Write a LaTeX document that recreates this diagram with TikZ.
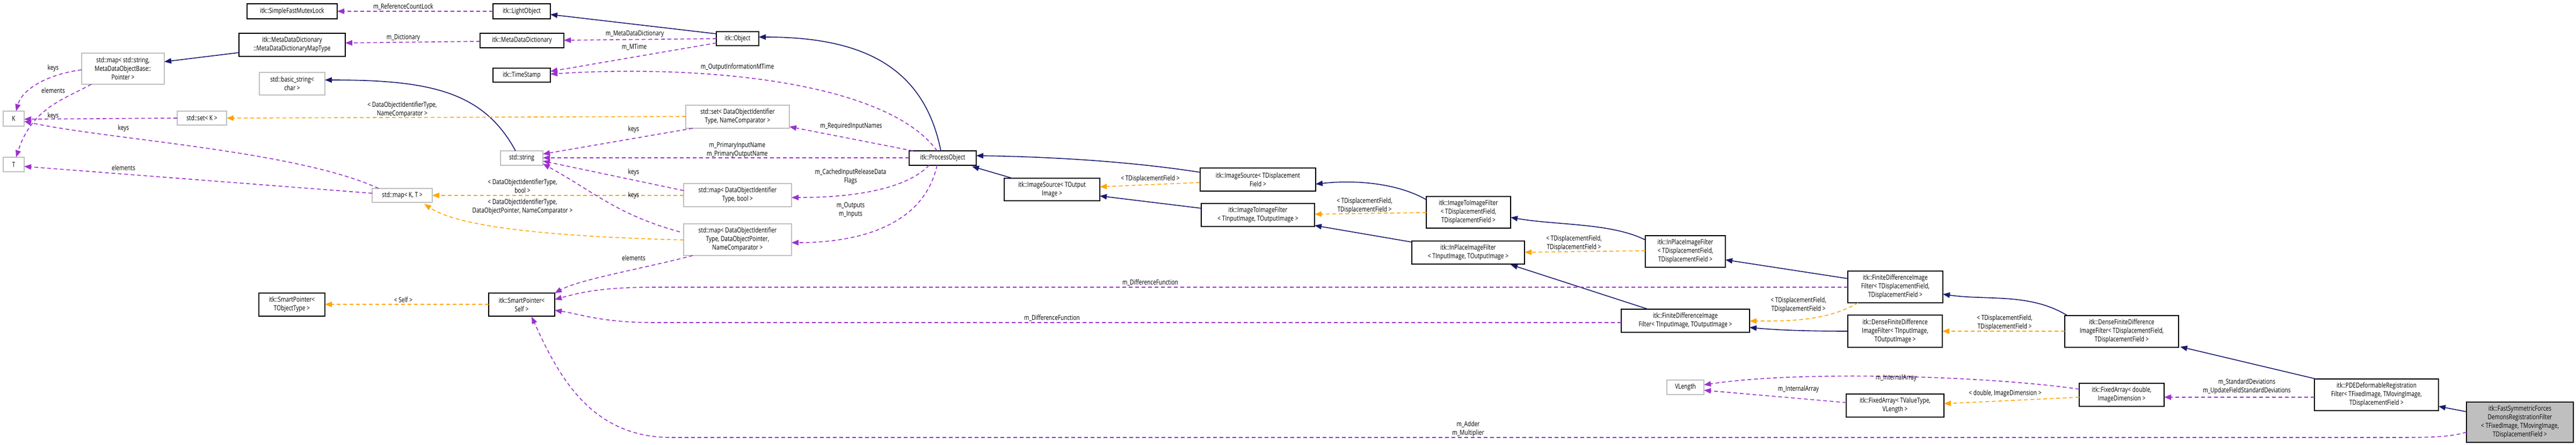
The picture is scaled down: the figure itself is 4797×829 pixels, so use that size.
\documentclass[tikz,border=0pt]{standalone}
\usepackage{fontspec}
\setmainfont{Open Sans}[FakeStretch=0.78]
\usetikzlibrary{arrows.meta}
\definecolor{nv}{HTML}{191970}
\definecolor{pu}{HTML}{9A32CD}
\definecolor{og}{HTML}{FFA500}
\definecolor{gb}{HTML}{BFBFBF}
\newcommand\bx[7]{\node[#2, minimum width={(#5-#3)*1pt}, minimum height={(#6-#4)*1pt}] (#1) at ({(#3+#5)/2},{(#4+#6)/2}) {#7};}
\begin{document}
\begin{tikzpicture}[x=1pt,y=-1pt,
  every node/.style={font=\fontsize{13}{16}\selectfont, inner sep=0pt, align=center},
  dc/.style={draw=black, line width=1.6pt, fill=white},
  uc/.style={draw=gb, line width=1.6pt, fill=white},
  me/.style={draw=black, line width=1.6pt, fill=gb},
  lbl/.style={fill=none},
  ih/.style={draw=nv, line width=1.6pt, -{Triangle[length=13pt,width=10pt]}},
  tp/.style={draw=og, line width=1.6pt, dash pattern=on 7pt off 5pt, -{Triangle[length=13pt,width=10pt]}},
  us/.style={draw=pu, line width=1.6pt, dash pattern=on 7pt off 5pt, -{Triangle[length=13pt,width=10pt]}}]
\useasboundingbox (0,0) rectangle (4797,829);
% nodes
\bx{sfml}{dc}{460}{7}{628}{35}{itk::SimpleFastMutexLock}
\bx{lo}{dc}{918}{7}{1025}{35}{itk::LightObject}
\bx{mdmt}{dc}{445}{62}{643}{105}{itk::MetaDataDictionary\\::MetaDataDictionaryMapType}
\bx{mdd}{dc}{894}{62}{1050}{89}{itk::MetaDataDictionary}
\bx{obj}{dc}{1334}{59}{1413}{85}{itk::Object}
\bx{ts}{dc}{918}{127}{1025}{153}{itk::TimeStamp}
\bx{mps}{uc}{152}{99}{306}{157}{std::map< std::string,\\ MetaDataObjectBase::\\Pointer >}
\bx{bs}{uc}{483}{135}{605}{177}{std::basic\_string<\\char >}
\bx{K}{uc}{6}{207}{45}{235}{K}
\bx{T}{uc}{6}{293}{45}{320}{T}
\bx{setk}{uc}{330}{207}{422}{233}{std::set< K >}
\bx{str}{uc}{932}{281}{1011}{308}{std::string}
\bx{mkt}{uc}{693}{351}{805}{377}{std::map< K, T >}
\bx{setd}{uc}{1277}{196}{1470}{239}{std::set< DataObjectIdentifier\\Type, NameComparator >}
\bx{mapb}{uc}{1273}{342}{1474}{385}{std::map< DataObjectIdentifier\\Type, bool >}
\bx{mapd}{uc}{1273}{417}{1474}{476}{std::map< DataObjectIdentifier\\Type, DataObjectPointer,\\NameComparator >}
\bx{po}{dc}{1693}{281}{1818}{308}{itk::ProcessObject}
\bx{spt}{dc}{482}{546}{605}{589}{itk::SmartPointer<\\ TObjectType >}
\bx{sps}{dc}{910}{546}{1033}{589}{itk::SmartPointer<\\ Self >}
\bx{iso}{dc}{1870}{332}{2048}{374}{itk::ImageSource< TOutput\\Image >}
\bx{isd}{dc}{2235}{313}{2450}{356}{itk::ImageSource< TDisplacement\\Field >}
\bx{itii}{dc}{2237}{379}{2448}{422}{itk::ImageToImageFilter\\< TInputImage, TOutputImage >}
\bx{itid}{dc}{2656}{366}{2813}{425}{itk::ImageToImageFilter\\< TDisplacementField,\\ TDisplacementField >}
\bx{ipi}{dc}{2629}{449}{2839}{492}{itk::InPlaceImageFilter\\< TInputImage, TOutputImage >}
\bx{ipd}{dc}{3064}{439}{3213}{498}{itk::InPlaceImageFilter\\< TDisplacementField,\\ TDisplacementField >}
\bx{fdi}{dc}{3019}{576}{3258}{619}{itk::FiniteDifferenceImage\\Filter< TInputImage, TOutputImage >}
\bx{fdd}{dc}{3441}{505}{3618}{564}{itk::FiniteDifferenceImage\\Filter< TDisplacementField,\\ TDisplacementField >}
\bx{dni}{dc}{3441}{587}{3617}{647}{itk::DenseFiniteDifference\\ImageFilter< TInputImage,\\ TOutputImage >}
\bx{dnd}{dc}{3845}{588}{4057}{647}{itk::DenseFiniteDifference\\ImageFilter< TDisplacementField,\\ TDisplacementField >}
\bx{vl}{uc}{3104}{708}{3173}{735}{VLength}
\bx{fat}{dc}{3438}{734}{3620}{777}{itk::FixedArray< TValueType,\\ VLength >}
\bx{fad}{dc}{3872}{714}{4030}{757}{itk::FixedArray< double,\\ ImageDimension >}
\bx{pde}{dc}{4310}{706}{4541}{765}{itk::PDEDeformableRegistration\\Filter< TFixedImage, TMovingImage,\\ TDisplacementField >}
\bx{fs}{me}{4593}{749}{4792}{824}{itk::FastSymmetricForces\\DemonsRegistrationFilter\\< TFixedImage, TMovingImage,\\ TDisplacementField >}
% inheritance
\draw[ih] (1334,63) -- (1025,27);
\draw[ih] (1752,281) .. controls (1720,120) and (1600,69) .. (1413,69);
\draw[ih] (2235,321) .. controls (2100,300) and (1950,292) .. (1818,290);
\draw[ih] (1885,332) -- (1810,310);
\draw[ih] (2656,372) .. controls (2600,340) and (2520,335) .. (2450,343);
\draw[ih] (2237,388) -- (2048,365);
\draw[ih] (2629,451) -- (2448,420);
\draw[ih] (3064,447) .. controls (3000,415) and (2900,420) .. (2813,405);
\draw[ih] (3069,576) -- (2813,493);
\draw[ih] (3441,519) -- (3213,484);
\draw[ih] (3441,617) .. controls (3350,617) and (3300,614) .. (3258,610);
\draw[ih] (3850,588) .. controls (3780,545) and (3700,560) .. (3618,548);
\draw[ih] (4313,706) -- (4060,646);
\draw[ih] (4593,767) -- (4541,757);
\draw[ih] (960,281) .. controls (900,170) and (800,149) .. (605,149);
\draw[ih] (445,98) -- (306,115);
% template
\draw[tp] (isd.west |- 0,340) -- (2048,348); \node[lbl] (t1) at (2142,333) {< TDisplacementField >};
\draw[tp] (2656,396) -- (2448,399); \node[lbl] (t2) at (2541,383) {< TDisplacementField,\\ TDisplacementField >};
\draw[tp] (3064,467) -- (2839,470); \node[lbl] (t3) at (2931,453) {< TDisplacementField,\\ TDisplacementField >};
\draw[tp] (3460,564) .. controls (3400,600) and (3320,598) .. (3258,598); \node[lbl] (t4) at (3349,568) {< TDisplacementField,\\ TDisplacementField >};
\draw[tp] (3845,617) -- (3617,617); \node[lbl] (t5) at (3733,601) {< TDisplacementField,\\ TDisplacementField >};
\draw[tp] (3872,740) -- (3620,752); \node[lbl] (t6) at (3734,733) {< double, ImageDimension >};
\draw[tp] (910,567) -- (605,567); \node[lbl] (t7) at (751,559) {< Self >};
\draw[tp] (1277,217) -- (422,220); \node[lbl] (t8) at (749,204) {< DataObjectIdentifierType,\\ NameComparator >};
\draw[tp] (1273,364) -- (805,364); \node[lbl] (t9) at (973,347) {< DataObjectIdentifierType,\\ bool >};
\draw[tp] (1273,447) .. controls (1000,440) and (850,420) .. (790,380); \node[lbl] (t10) at (973,385) {< DataObjectIdentifierType,\\ DataObjectPointer, NameComparator >};
% usage
\draw[us] (918,21) -- (628,21); \node[lbl] (u1) at (751,13) {m\_ReferenceCountLock};
\draw[us] (894,77) -- (643,80); \node[lbl] (u2) at (751,70) {m\_Dictionary};
\draw[us] (1334,72) -- (1050,75); \node[lbl] (u3) at (1182,63) {m\_MetaDataDictionary};
\draw[us] (1334,80) -- (1025,133); \node[lbl] (u4) at (1181,88) {m\_MTime};
\draw[us] (1745,281) .. controls (1650,150) and (1300,120) .. (1025,138); \node[lbl] (u5) at (1373,125) {m\_OutputInformationMTime};
\draw[us] (1700,281) -- (1470,236); \node[lbl] (u6) at (1585,235) {m\_RequiredInputNames};
\draw[us] (1693,294) -- (1011,294); \node[lbl] (u7) at (1373,279) {m\_PrimaryInputName\\m\_PrimaryOutputName};
\draw[us] (1730,308) .. controls (1680,360) and (1560,368) .. (1474,368); \node[lbl] (u8) at (1584,329) {m\_CachedInputReleaseData\\Flags};
\draw[us] (1745,308) .. controls (1720,420) and (1600,452) .. (1474,452); \node[lbl] (u9) at (1584,391) {m\_Outputs\\m\_Inputs};
\draw[us] (1290,239) -- (1011,287); \node[lbl] (u10) at (1180,241) {keys};
\draw[us] (1273,355) -- (1011,300); \node[lbl] (u11) at (1180,321) {keys};
\draw[us] (1266,432) .. controls (1150,400) and (1110,360) .. (1011,305); \node[lbl] (u12) at (1180,364) {keys};
\draw[us] (1290,476) .. controls (1200,500) and (1080,520) .. (1033,546); \node[lbl] (u13) at (1180,481) {elements};
\draw[us] (152,130) .. controls (80,140) and (40,170) .. (30,207); \node[lbl] (u14) at (99,127) {keys};
\draw[us] (170,157) .. controls (120,185) and (60,200) .. (30,293); \node[lbl] (u15) at (99,169) {elements};
\draw[us] (330,220) -- (45,222); \node[lbl] (u16) at (99,216) {keys};
\draw[us] (705,351) .. controls (550,280) and (200,260) .. (45,226); \node[lbl] (u17) at (230,239) {keys};
\draw[us] (693,360) -- (45,310); \node[lbl] (u18) at (230,313) {elements};
\draw[us] (3441,535) -- (1220,535) .. controls (1120,535) and (1080,545) .. (1033,558); \node[lbl] (u19) at (2142,527) {m\_DifferenceFunction};
\draw[us] (3019,601) -- (1220,601) .. controls (1120,601) and (1080,585) .. (1033,578); \node[lbl] (u20) at (1959,593) {m\_DifferenceFunction};
\draw[us] (4593,805) .. controls (4560,815) and (4520,815) .. (4450,815) -- (1250,815) .. controls (1100,815) and (1040,700) .. (990,590); \node[lbl] (u21) at (2734,799) {m\_Adder\\m\_Multiplier};
\draw[us] (3872,725) .. controls (3700,700) and (3350,690) .. (3173,717); \node[lbl] (u22) at (3531,704) {m\_InternalArray};
\draw[us] (3438,750) -- (3173,727); \node[lbl] (u23) at (3349,725) {m\_InternalArray};
\draw[us] (4310,740) -- (4030,740); \node[lbl] (u24) at (4184,720) {m\_StandardDeviations\\m\_UpdateFieldStandardDeviations};
\end{tikzpicture}
\end{document}
